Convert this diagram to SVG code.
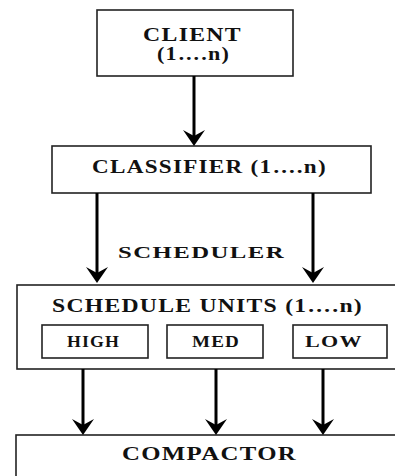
<svg xmlns="http://www.w3.org/2000/svg" width="395" height="476" viewBox="0 0 395 476">
<style>
.box{fill:#fff;stroke:#222;stroke-width:1.6}
.t{font-family:"Liberation Serif","Times New Roman",serif;font-weight:bold;fill:#111;letter-spacing:1px}
.c{stroke:#000;stroke-width:3;fill:none}
.h{fill:#000}
</style>
<rect width="395" height="476" fill="#fff"/>
<g id="client">
<rect class="box" x="97" y="10" width="196" height="66"/>
<text class="t" x="143" y="41" font-size="18" textLength="99" lengthAdjust="spacingAndGlyphs">CLIENT</text>
<text class="t" x="157" y="60" font-size="18" textLength="73" lengthAdjust="spacingAndGlyphs">(1….n)</text>
</g>
<g id="classifier">
<rect class="box" x="52" y="146" width="319" height="47"/>
<text class="t" x="92" y="173" font-size="18" textLength="235" lengthAdjust="spacingAndGlyphs">CLASSIFIER (1….n)</text>
</g>
<g id="scheduler-label">
<text class="t" x="118" y="258" font-size="17" textLength="167" lengthAdjust="spacingAndGlyphs">SCHEDULER</text>
</g>
<g id="schedule-units">
<rect class="box" x="17" y="285" width="390" height="84"/>
<text class="t" x="52" y="312" font-size="19" textLength="311" lengthAdjust="spacingAndGlyphs">SCHEDULE UNITS (1….n)</text>
</g>
<g id="high">
<rect class="box" x="42" y="325" width="106" height="33"/>
<text class="t" x="67" y="347" font-size="16" textLength="53" lengthAdjust="spacingAndGlyphs">HIGH</text>
</g>
<g id="med">
<rect class="box" x="167" y="325" width="96" height="33"/>
<text class="t" x="192" y="347" font-size="16" textLength="48" lengthAdjust="spacingAndGlyphs">MED</text>
</g>
<g id="low">
<rect class="box" x="293" y="325" width="94" height="33"/>
<text class="t" x="305" y="347" font-size="16" textLength="58" lengthAdjust="spacingAndGlyphs">LOW</text>
</g>
<g id="compactor">
<rect class="box" x="16" y="435" width="390" height="60"/>
<text class="t" x="122" y="460" font-size="19" textLength="175" lengthAdjust="spacingAndGlyphs">COMPACTOR</text>
</g>
<g id="connectors">
<line class="c" x1="194" y1="76" x2="194" y2="138"/>
<path class="h" d="M194 146 L183 130 L194 136 L205 130 Z"/>
<line class="c" x1="97" y1="193" x2="97" y2="274"/>
<path class="h" d="M97 283 L86 267 L97 273 L108 267 Z"/>
<line class="c" x1="313" y1="193" x2="313" y2="274"/>
<path class="h" d="M313 283 L302 267 L313 273 L324 267 Z"/>
<line class="c" x1="83" y1="369" x2="83" y2="426"/>
<path class="h" d="M83 435 L72 419 L83 425 L94 419 Z"/>
<line class="c" x1="216" y1="369" x2="216" y2="426"/>
<path class="h" d="M216 435 L205 419 L216 425 L227 419 Z"/>
<line class="c" x1="323" y1="369" x2="323" y2="426"/>
<path class="h" d="M323 435 L312 419 L323 425 L334 419 Z"/>
</g>
</svg>
